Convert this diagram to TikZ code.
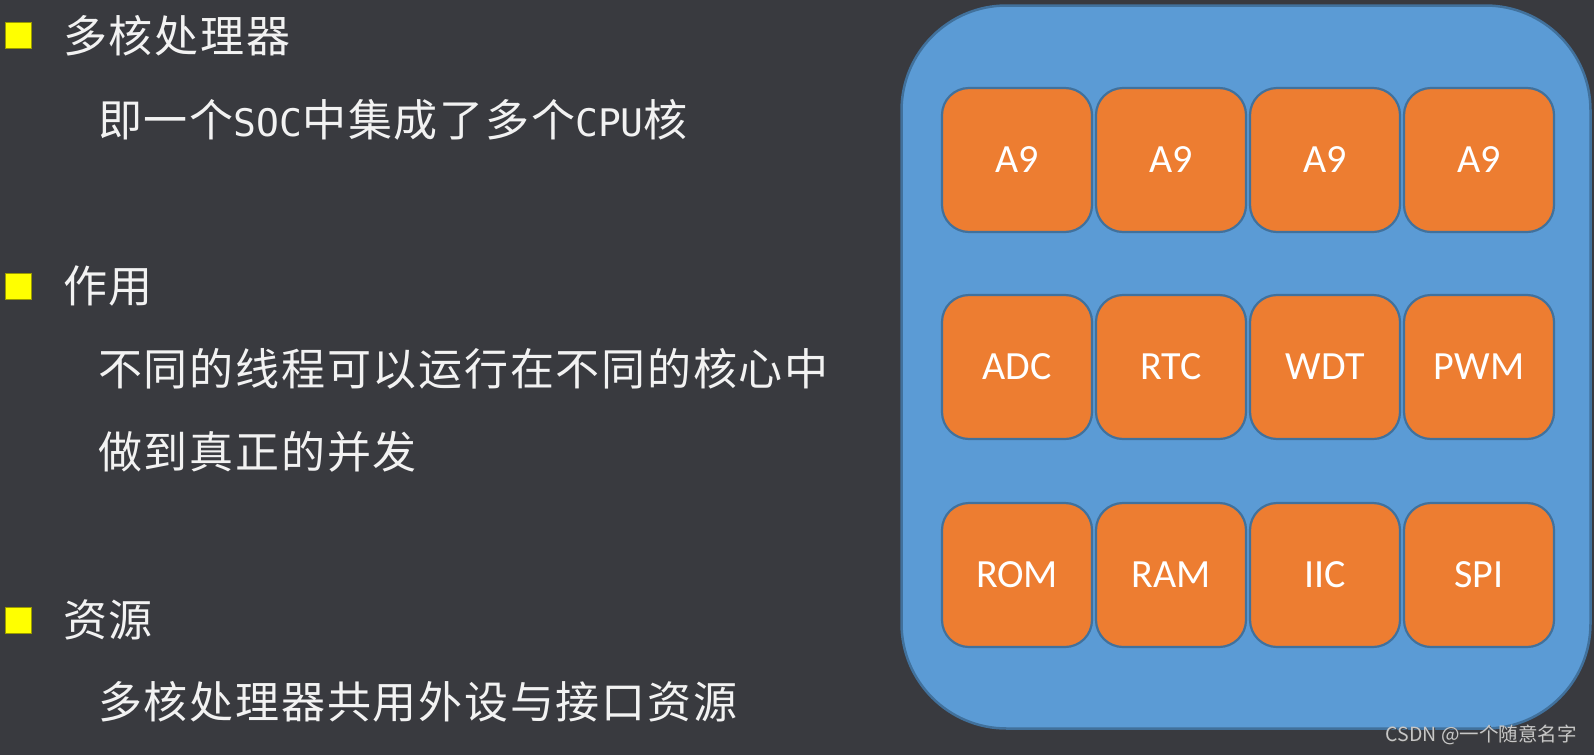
\documentclass[tikz,border=0pt]{standalone}
\usepackage{fontspec}
\setmainfont{Carlito}
\newfontfamily\cjk[LetterSpace=4]{Noto Sans CJK SC}
\newfontfamily\wmfont{Noto Sans CJK SC}
\newfontfamily\latn{DejaVu Sans Mono}
\newcommand{\lt}[1]{{\latn\fontsize{38}{52}\selectfont #1}}
\definecolor{bgc}{RGB}{57,58,63}
\definecolor{socblue}{RGB}{91,155,213}
\definecolor{edgeblue}{RGB}{65,113,156}
\definecolor{orng}{RGB}{237,125,49}
\definecolor{txt}{RGB}{242,242,242}
\definecolor{bul}{RGB}{255,255,0}
\tikzset{
  unit/.style={draw=edgeblue, line width=2.2pt, fill=orng, rounded corners=27pt,
    minimum width=150pt, minimum height=144pt, inner sep=0pt,
    text=white, font=\fontsize{40}{48}\selectfont},
  bullet/.style={draw=black!40!bul, line width=0.8pt, fill=bul, minimum width=26pt, minimum height=26pt, inner sep=0pt},
  head/.style={anchor=west, text=txt, inner sep=0pt, font=\cjk\fontsize{44}{52}\selectfont},
  sub/.style={anchor=west, text=txt, inner sep=0pt, font=\cjk\fontsize{44}{52}\selectfont},
  wm/.style={anchor=east, inner sep=0pt, font=\wmfont\fontsize{19.5}{22}\selectfont},
}
\begin{document}
\begin{tikzpicture}[x=1pt,y=-1pt]
\fill[bgc] (0,0) rectangle (1594,755);
\useasboundingbox (0,0) rectangle (1594,755);
% SOC box
\node[draw=edgeblue, line width=2.5pt, fill=socblue, rounded corners=105pt,
  minimum width=689pt, minimum height=723pt, inner sep=0pt] (soc) at (1246,367) {};
% units
\node[unit] (a1) at (1017,160) {A9};
\node[unit] (a2) at (1171,160) {A9};
\node[unit] (a3) at (1325,160) {A9};
\node[unit] (a4) at (1479,160) {A9};
\node[unit] (adc) at (1017,367) {ADC};
\node[unit] (rtc) at (1171,367) {RTC};
\node[unit] (wdt) at (1325,367) {WDT};
\node[unit] (pwm) at (1479,367) {PWM};
\node[unit] (rom) at (1017,575) {ROM};
\node[unit] (ram) at (1171,575) {RAM};
\node[unit] (iic) at (1325,575) {IIC};
\node[unit] (spi) at (1479,575) {SPI};
% bullets
\node[bullet] (b1) at (18,35) {};
\node[bullet] (b2) at (18,286) {};
\node[bullet] (b3) at (18,620) {};
% texts
\node[head] (h1) at (63,36) {多核处理器};
\node[sub] (s1) at (98,120) {即一个\lt{SOC}中集成了多个\lt{CPU}核};
\node[head] (h2) at (63,286) {作用};
\node[sub] (s2) at (98,369) {不同的线程可以运行在不同的核心中};
\node[sub] (s3) at (98,452) {做到真正的并发};
\node[head] (h3) at (63,620) {资源};
\node[sub] (s4) at (98,702) {多核处理器共用外设与接口资源};
% watermark
\node[wm, text=black!75] (wm0) at (1578,736) {CSDN @一个随意名字};
\node[wm, text=black!22] (wm1) at (1577,735) {CSDN @一个随意名字};
\end{tikzpicture}
\end{document}
